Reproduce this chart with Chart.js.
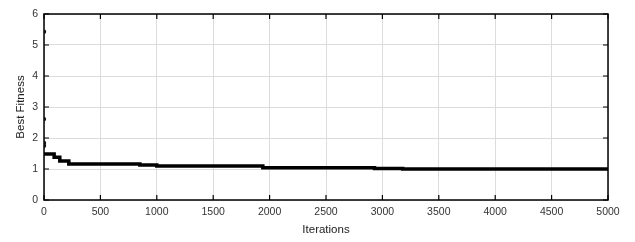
<!DOCTYPE html>
<html><head><meta charset="utf-8">
<script src="https://cdn.jsdelivr.net/npm/chart.js@4/dist/chart.umd.min.js"></script>
<style>html,body{margin:0;padding:0;background:#fff}#wrap{width:635px;height:242px}</style>
</head><body><div id="wrap"><canvas id="c"></canvas></div>
<script>
const startIterations = [0, 0, 0, 0];
const startFitness = [5.43, 2.61, 1.84, 1.75];
const iterations = [0, 90, 140, 220, 850, 1000, 1940, 2930, 3180, 5000];
const fitness = [1.48, 1.38, 1.26, 1.16, 1.13, 1.10, 1.04, 1.02, 1.00, 1.00];
const xTicks = [0, 500, 1000, 1500, 2000, 2500, 3000, 3500, 4000, 4500, 5000];
const yTicks = [0, 1, 2, 3, 4, 5, 6];

const toPts = (xs, ys) => xs.map((x, i) => ({x, y: ys[i]}));

const boxTicks = {
  id: 'boxTicks',
  beforeDatasetsDraw(chart) {
    const {ctx, chartArea: a, scales: {x, y}} = chart;
    ctx.save();
    ctx.strokeStyle = '#000';
    ctx.lineWidth = 1.5;
    ctx.strokeRect(a.left, a.top, a.right - a.left, a.bottom - a.top);
    ctx.lineWidth = 1.2;
    ctx.beginPath();
    xTicks.forEach(v => {
      const px = x.getPixelForValue(v);
      ctx.moveTo(px, a.bottom); ctx.lineTo(px, a.bottom - 5);
      ctx.moveTo(px, a.top); ctx.lineTo(px, a.top + 5);
    });
    yTicks.forEach(v => {
      const py = y.getPixelForValue(v);
      ctx.moveTo(a.left, py); ctx.lineTo(a.left + 5, py);
      ctx.moveTo(a.right, py); ctx.lineTo(a.right - 5, py);
    });
    ctx.stroke();
    ctx.restore();
  }
};

new Chart(document.getElementById('c'), {
  type: 'scatter',
  data: {
    datasets: [
      {
        data: toPts(iterations, fitness),
        showLine: true, stepped: true,
        borderColor: '#000', borderWidth: 3.5,
        pointRadius: 0, fill: false
      },
      {
        data: toPts(startIterations, startFitness),
        showLine: false,
        pointRadius: 2.2, pointBackgroundColor: '#111', pointBorderWidth: 0
      }
    ]
  },
  options: {
    responsive: true, maintainAspectRatio: false, animation: false,
    layout: {padding: {top: 14, right: 27, left: 0, bottom: 0}},
    plugins: {legend: {display: false}, tooltip: {enabled: false}},
    scales: {
      x: {
        type: 'linear', min: 0, max: 5000,
        afterBuildTicks: s => { s.ticks = xTicks.map(v => ({value: v})); },
        afterFit: s => { s.height = 42; },
        grid: {color: '#dcdcdc', lineWidth: 1, drawTicks: false},
        border: {display: false},
        ticks: {color: '#333', font: {family: 'Liberation Sans', size: 10.5}, padding: 6, maxRotation: 0,
                callback: v => String(v)},
        title: {display: true, text: 'Iterations', color: '#222', font: {family: 'Liberation Sans', size: 11.5}, padding: {top: 4, bottom: 5}}
      },
      y: {
        min: 0, max: 6,
        afterBuildTicks: s => { s.ticks = yTicks.map(v => ({value: v})); },
        afterFit: s => { s.width = 44; },
        grid: {color: '#dcdcdc', lineWidth: 1, drawTicks: false},
        border: {display: false},
        ticks: {color: '#333', font: {family: 'Liberation Sans', size: 10.5}, padding: 6,
                callback: v => String(v)},
        title: {display: true, text: 'Best Fitness', color: '#222', font: {family: 'Liberation Sans', size: 11.5}, padding: {top: 14, bottom: 0}}
      }
    }
  },
  plugins: [boxTicks]
});
</script></body></html>
